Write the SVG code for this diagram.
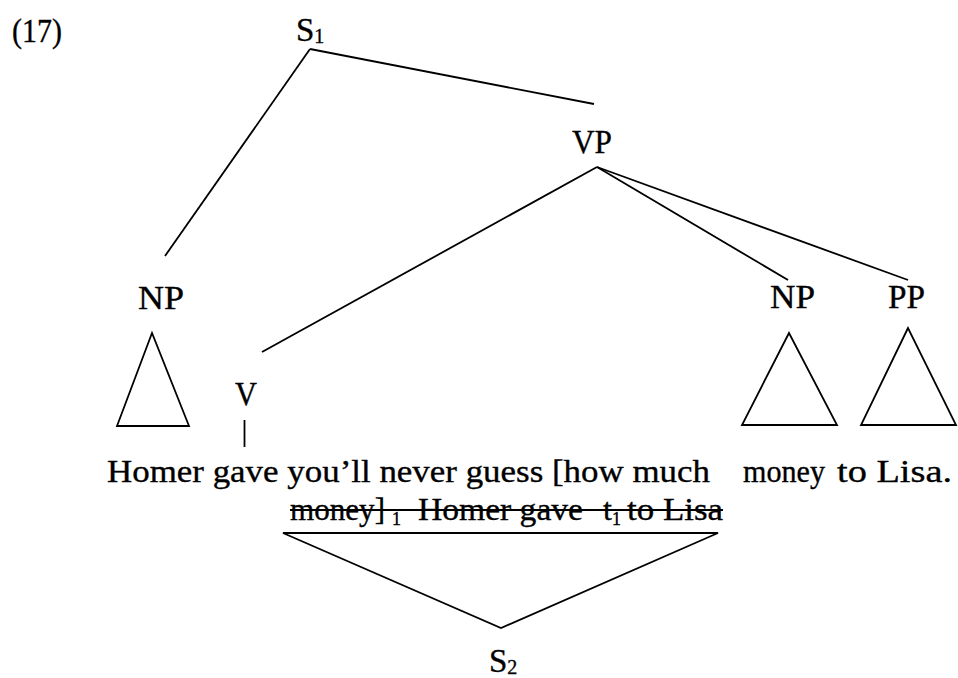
<svg xmlns="http://www.w3.org/2000/svg" width="958" height="678" viewBox="0 0 958 678">
<style>
text{font-family:"Liberation Serif","DejaVu Serif",serif;fill:#000;stroke:#000;stroke-width:0.35}
.lb{font-size:33px}
.sub{font-size:20px}
.ss{font-size:18px}
.w{font-size:32px}
line,polygon{stroke:#000;stroke-width:1.8;fill:none}
</style>
<rect width="958" height="678" fill="#fff"/>
<text class="lb" x="12" y="42" textLength="50" lengthAdjust="spacingAndGlyphs">(17)</text>
<g id="S1"><text class="lb" x="296" y="41">S<tspan class="sub" dy="2">1</tspan></text></g>
<g id="VP"><text class="lb" x="572" y="153" textLength="40" lengthAdjust="spacingAndGlyphs">VP</text></g>
<g id="NP1"><text class="lb" x="138" y="309" textLength="46" lengthAdjust="spacingAndGlyphs">NP</text>
<polygon points="152,333 117,426 189,426"/></g>
<g id="V"><text class="lb" x="235" y="405" textLength="22" lengthAdjust="spacingAndGlyphs">V</text>
<line x1="244.5" y1="420" x2="244.5" y2="447"/></g>
<g id="NP2"><text class="lb" x="770" y="308" textLength="45" lengthAdjust="spacingAndGlyphs">NP</text>
<polygon points="789,333 742,425 837,425"/></g>
<g id="PP"><text class="lb" x="888" y="308" textLength="37" lengthAdjust="spacingAndGlyphs">PP</text>
<polygon points="908,328 861,425 956,425"/></g>
<g id="sentence">
<text class="w" x="107" y="482" textLength="603" lengthAdjust="spacingAndGlyphs">Homer gave you’ll never guess [how much</text>
<text class="w" x="743" y="482" textLength="82" lengthAdjust="spacingAndGlyphs">money</text>
<text class="w" x="837" y="482" textLength="115" lengthAdjust="spacingAndGlyphs">to Lisa.</text>
</g>
<g id="struck">
<text class="w" x="290" y="520" textLength="95" lengthAdjust="spacingAndGlyphs">money]</text>
<text class="ss" x="392" y="525">1</text>
<text class="w" x="418" y="520" textLength="165" lengthAdjust="spacingAndGlyphs">Homer gave</text>
<text class="w" x="603" y="520">t</text>
<text class="ss" x="612" y="525">1</text>
<text class="w" x="627" y="520" textLength="96" lengthAdjust="spacingAndGlyphs">to Lisa</text>
<line x1="290" y1="510" x2="723" y2="510"/>
</g>
<g id="S2"><text class="lb" x="489" y="672">S<tspan class="sub" dy="2">2</tspan></text>
<polygon points="283,533 718,533 501,628"/></g>
<g id="connectors">
<line x1="310" y1="49" x2="165" y2="256"/>
<line x1="310" y1="49" x2="594" y2="104"/>
<line x1="597" y1="167" x2="262" y2="352"/>
<line x1="597" y1="167" x2="788" y2="280"/>
<line x1="597" y1="167" x2="908" y2="280"/>
</g>
</svg>
